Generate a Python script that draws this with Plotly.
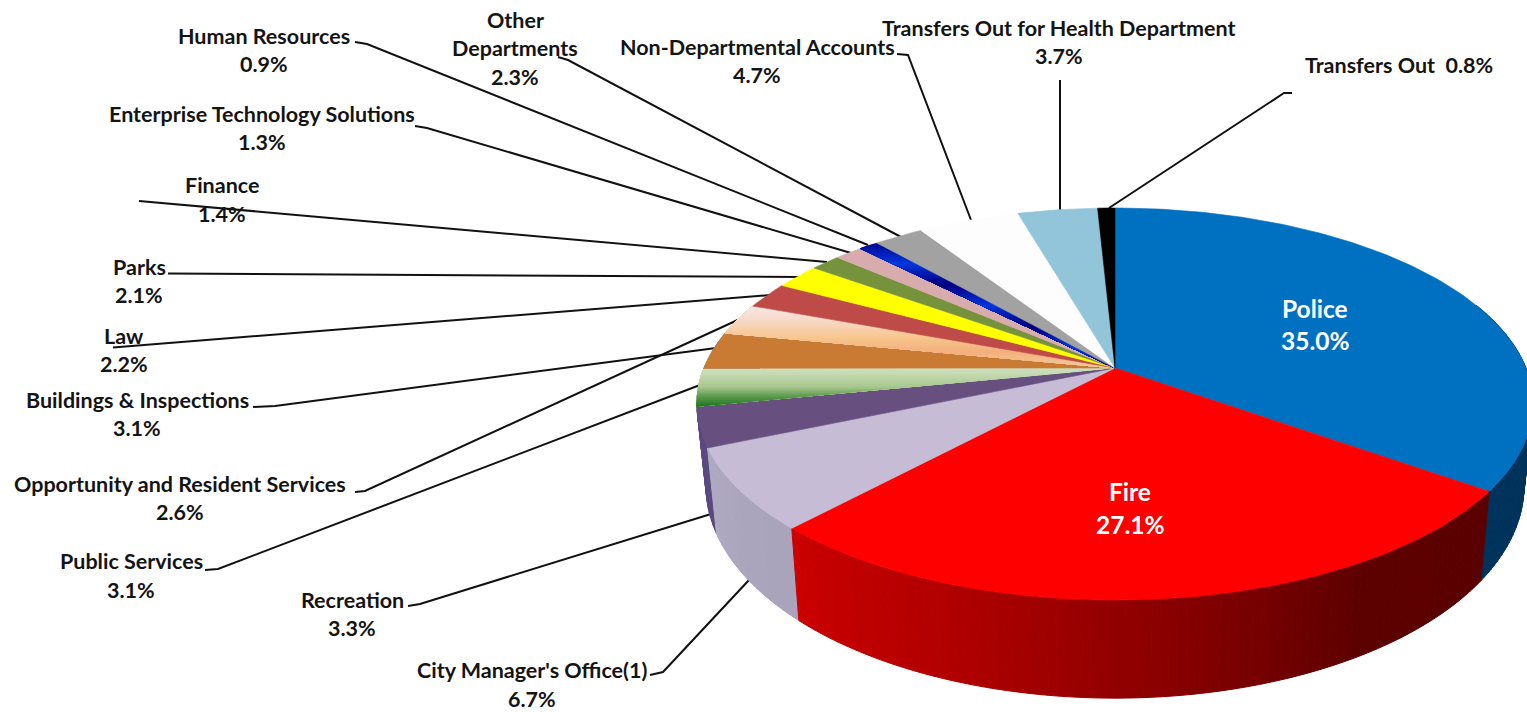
import numpy as np
import plotly.graph_objects as go

# ---- data ----
departments = ["Police", "Fire", "City Manager's Office(1)", "Recreation", "Public Services",
               "Buildings & Inspections", "Opportunity and Resident Services", "Law", "Parks",
               "Finance", "Enterprise Technology Solutions", "Human Resources", "Other Departments",
               "Non-Departmental Accounts", "Transfers Out for Health Department", "Transfers Out"]
shares = [35.0, 27.1, 6.7, 3.3, 3.1, 3.1, 2.6, 2.2, 2.1, 1.4, 1.3, 0.9, 2.3, 4.7, 3.7, 0.8]

# ---- styles (multi-colour entries run from the top of the slice to its bottom on the page) ----
top_stops = [["#0070C0"], ["#FF0000"], ["#C7BCD6"], ["#674F80"],
             ["#D0E2C2", "#C0D6A8", "#A9C890", "#5E9A50", "#1F7A22"],
             ["#C97A33"],
             ["#F8E8E6", "#F9D9C8", "#F8C890", "#F4B07E", "#F5CFA0"],
             ["#BE4B48"], ["#FFFF00"], ["#76923C"], ["#D8ACAC"],
             ["#000A90", "#0038E0", "#000080", "#0038E0", "#000080", "#0038E0", "#000A90"],
             ["#A2A2A2"], ["#FDFDFD"], ["#92C5D9"], ["#000000"]]
wall_stops = [["#00335C"], ["#5A0000", "#5E0000", "#8A0000", "#B00000", "#CC0000"],
              ["#A9A3BC", "#ABA5BE", "#B0AAC2"], ["#5A4A80"]] + [["#888888"]] * 12

# Projection of the round pie onto the page (page pixels of the photographed chart)
CX, TOP_Y, BOT_Y = 1115.0, 368.0, 447.0
TOP_A, TOP_B = 411.0, 189.4
BOT_A, BOT_B = 402.0, 205.0
K = -0.1837


def project(theta, radius, a, b, y0):
    u, v = radius * np.sin(theta), -radius * np.cos(theta)
    d = 1 + K * v
    return CX + a * u / d, y0 + b * v / d


def hex2rgb(c):
    return np.array([int(c[i:i + 2], 16) for i in (1, 3, 5)], float)


def shade(stops, t):
    if len(stops) == 1:
        return stops[0]
    p = t * (len(stops) - 1)
    i = min(int(p), len(stops) - 2)
    rgb = hex2rgb(stops[i]) * (1 - (p - i)) + hex2rgb(stops[i + 1]) * (p - i)
    return "rgb(%d,%d,%d)" % tuple(rgb)


def poly(xs, ys, color, lw=0.6):
    return go.Scatter(x=list(xs), y=list(ys), mode="lines", fill="toself", fillcolor=color,
                      line=dict(color=color, width=lw), hoverinfo="skip", showlegend=False)


def clip_y(pts, limit, keep_below):
    """Clip a polygon by a horizontal line; keeps y>=limit if keep_below else y<=limit."""
    out = []
    inside = (lambda p: p[1] >= limit) if keep_below else (lambda p: p[1] <= limit)
    for k in range(len(pts)):
        p, q = pts[k], pts[(k + 1) % len(pts)]
        if inside(p):
            out.append(p)
        if inside(p) != inside(q):
            f = (limit - p[1]) / (q[1] - p[1])
            out.append((p[0] + f * (q[0] - p[0]), limit))
    return out


fig = go.Figure()

# ---- leader lines (page pixels) ----
leaders = [
    [(1292, 93), (1284, 93), (1109, 208)],
    [(1060, 80), (1060, 210)],
    [(897, 54), (908, 55), (971, 220)],
    [(558, 57), (568, 60), (901, 237)],
    [(355, 42), (367, 44), (868, 245)],
    [(415, 126), (427, 128), (851, 253)],
    [(139, 201), (827, 262)],
    [(168, 273.5), (800, 277)],
    [(113, 347.5), (770, 295)],
    [(253, 407), (275, 406), (716, 348)],
    [(355, 492), (365, 491), (742, 318)],
    [(205, 570), (218, 569), (700, 385)],
    [(408, 606), (420, 604), (711, 514)],
    [(650, 675), (663, 672), (749, 580)],
]
for pts in leaders:
    fig.add_trace(go.Scatter(x=[p[0] for p in pts], y=[p[1] for p in pts], mode="lines",
                             line=dict(color="#111111", width=2), hoverinfo="skip", showlegend=False))

# ---- slices ----
total = sum(shares)
edges = np.concatenate([[0], np.cumsum(shares)]) / total * 2 * np.pi

# side walls: back to front
wall_parts = []
for i in range(len(shares)):
    lo, hi = edges[i], edges[i + 1]
    n = max(1, int((hi - lo) / np.radians(1.0)))
    for j in range(n):
        a0 = lo + (hi - lo) * j / n
        a1 = lo + (hi - lo) * (j + 1) / n
        if np.cos((a0 + a1) / 2) < 0.35:
            wall_parts.append((-np.cos((a0 + a1) / 2), a0, a1, shade(wall_stops[i], (j + .5) / n)))
wall_parts.sort(key=lambda w: w[0])
for _, a0, a1, col in wall_parts:
    th = np.linspace(a0, a1, 4)
    x1, y1 = project(th, 1, TOP_A, TOP_B, TOP_Y)
    x2, y2 = project(th[::-1], 1, BOT_A, BOT_B, BOT_Y)
    fig.add_trace(poly(np.r_[x1, x2, x1[0]], np.r_[y1, y2, y1[0]], col, 1.0))

# top face
for i in range(len(shares)):
    stops = top_stops[i]
    lo, hi = edges[i], edges[i + 1]
    th = np.linspace(lo, hi, max(3, int((hi - lo) / np.radians(1)) + 2))
    x, y = project(th, 1, TOP_A, TOP_B, TOP_Y)
    xs, ys = np.r_[CX, x], np.r_[TOP_Y, y]
    if len(stops) == 1:
        fig.add_trace(poly(np.r_[xs, CX], np.r_[ys, TOP_Y], stops[0]))
        continue
    wedge = list(zip(xs, ys))
    y_min, y_max = ys.min(), ys.max()
    n = int(y_max - y_min)
    for j in range(n):
        # each band runs on to the slice's bottom, so later bands paint over it without seams
        part = clip_y(wedge, y_min + (y_max - y_min) * j / n, True)
        if len(part) >= 3:
            fig.add_trace(poly([p[0] for p in part] + [part[0][0]],
                               [p[1] for p in part] + [part[0][1]],
                               shade(stops, (j + .5) / n), 0.3))

# ---- labels: (index, name lines with page centres, value line centre) ----
pct = ["%.1f%%" % s for s in shares]
FS = 21.5
label_pos = [
    (5, [("Buildings & Inspections", 137, 400)], (137, 428)),
    (6, [("Opportunity and Resident Services", 180, 484)], (180, 512)),
    (4, [("Public Services", 131, 561)], (131, 590)),
    (3, [("Recreation", 352, 600)], (352, 628)),
    (2, [("City Manager's Office(1)", 532, 670)], (532, 699)),
    (7, [("Law", 124, 336)], (124, 364)),
    (8, [("Parks", 139, 267)], (139, 295)),
    (9, [("Finance", 222, 185)], (222, 214)),
    (10, [("Enterprise Technology Solutions", 262, 114)], (262, 142)),
    (11, [("Human Resources", 264, 36)], (264, 64)),
    (12, [("Other", 515, 20), ("Departments", 515, 48)], (515, 77)),
    (13, [("Non-Departmental Accounts", 757, 47)], (757, 75)),
    (14, [("Transfers Out for Health Department", 1058, 28)], (1059, 56)),
]


def put(text, x, y, size=FS, color="#141414"):
    fig.add_annotation(x=x, y=y, text="<b>%s</b>" % text, showarrow=False, xanchor="center",
                       yanchor="middle", font=dict(family="Lato", size=size, color=color))


for idx, lines, (vx, vy) in label_pos:
    for text, x, y in lines:
        put(text, x, y)
    put(pct[idx], vx, vy)
put(departments[15] + "&#160;&#160;" + pct[15], 1399, 65)
put(departments[0], 1315, 308, 24.5, "white")
put(pct[0], 1315, 340, 24.5, "white")
put(departments[1], 1130, 491, 24.5, "white")
put(pct[1], 1130, 524, 24.5, "white")

fig.update_layout(width=1527, height=712, margin=dict(l=0, r=0, t=0, b=0),
                  plot_bgcolor="white", paper_bgcolor="white", showlegend=False,
                  xaxis=dict(range=[0, 1527], visible=False, fixedrange=True),
                  yaxis=dict(range=[712, 0], visible=False, fixedrange=True))
fig.write_html("out.html", config={"displayModeBar": False},
               post_script="document.body.style.margin='0';document.body.style.overflow='hidden';")
